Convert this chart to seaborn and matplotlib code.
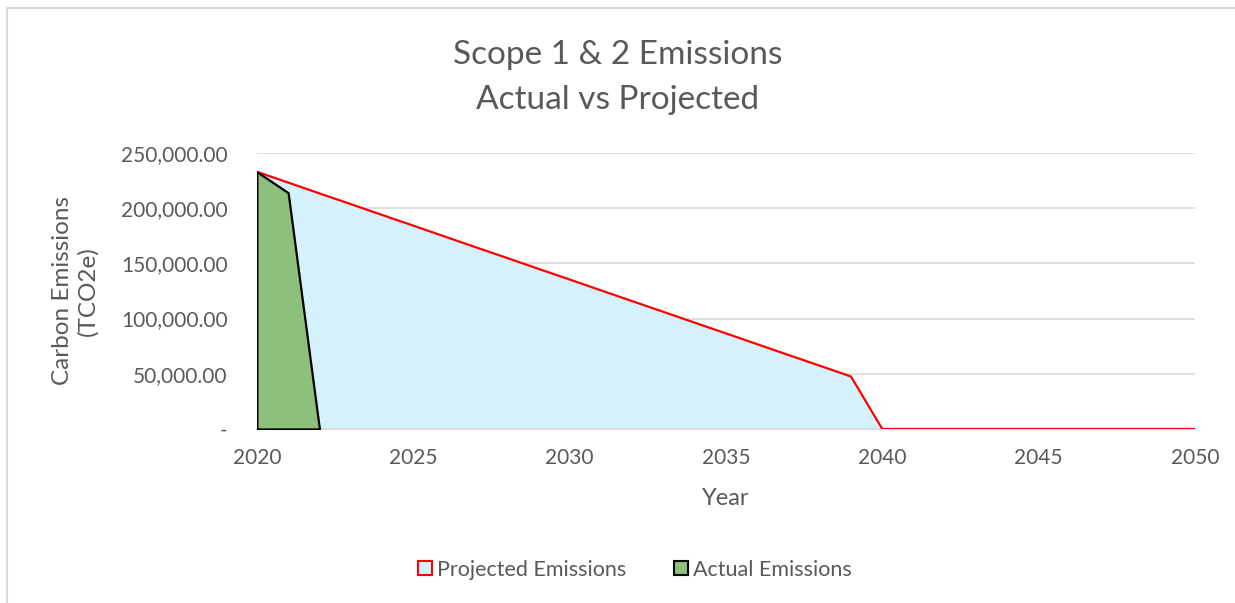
import matplotlib
matplotlib.use("Agg")
import matplotlib.pyplot as plt
from matplotlib.patches import Patch, Rectangle
from matplotlib.ticker import FuncFormatter
import numpy as np
import pandas as pd
import seaborn as sns

# values (TCO2e)
years = list(range(2020, 2051))
projected = [233000, 223200, 213400, 203700, 193900, 184200, 174400, 164600,
             154900, 145100, 135400, 125600, 115800, 106100, 96300, 86600,
             76800, 67000, 57300, 47500, 0, 0, 0, 0, 0, 0, 0, 0, 0, 0, 0]
actual_years = [2020, 2021, 2022]
actual = [233000, 214000, 0]

TEXT = "#595959"

sns.set_theme(style="white")
plt.rcParams["font.family"] = ["Lato", "DejaVu Sans"]

fig = plt.figure(figsize=(12.35, 6.03), dpi=100)
ax = fig.add_axes([0.208, 0.2886, 0.7596, 0.4577])

proj = pd.DataFrame({"year": years, "value": projected})
act = pd.DataFrame({"year": actual_years, "value": actual})

ax.fill_between(proj["year"], proj["value"], 0, color="#D5F1FC", lw=0, zorder=1)
sns.lineplot(data=proj, x="year", y="value", ax=ax, color="#FF0000", lw=1.6, zorder=3)
ax.fill_between(act["year"], act["value"], 0, facecolor="#8DC17B",
                edgecolor="black", lw=1.6, zorder=4)

ax.set_xlim(2020, 2050)
ax.set_ylim(0, 250000)
ax.set_yticks(np.arange(0, 250001, 50000))
ax.set_xticks(range(2020, 2051, 5))
ax.yaxis.set_major_formatter(FuncFormatter(lambda v, p: "-" if v == 0 else f"{v:,.2f}"))
ax.grid(axis="y", color="#D9D9D9", lw=1.2, zorder=0)
ax.set_axisbelow(True)
for s in ["top", "right", "left"]:
    ax.spines[s].set_visible(False)
ax.spines["bottom"].set_color("#D9D9D9")
ax.tick_params(axis="both", length=0, labelsize=15, colors=TEXT)
ax.tick_params(axis="y", pad=21)
ax.tick_params(axis="x", pad=14)

ax.set_xlabel("Year", fontsize=17, color=TEXT, labelpad=14)
ax.set_ylabel("Carbon Emissions\n(TCO2e)", fontsize=17.5, color=TEXT, labelpad=16,
              linespacing=1.25)

fig.suptitle("Scope 1 & 2 Emissions\nActual vs Projected", y=0.934, fontsize=24,
             color=TEXT, linespacing=1.62)

handles = [Patch(facecolor="#D5F1FC", edgecolor="#FF0000", lw=1.5, label="Projected Emissions"),
           Patch(facecolor="#8DC17B", edgecolor="black", lw=1.5, label="Actual Emissions")]
leg = fig.legend(handles=handles, loc="center", bbox_to_anchor=(0.514, 0.055), ncol=2,
                 frameon=False, fontsize=15.5, handlelength=0.65, handleheight=0.65,
                 handletextpad=0.25, columnspacing=2.2)
for t in leg.get_texts():
    t.set_color(TEXT)

# chart-area border (only top and left edges are in view)
fig.patches.append(Rectangle((0.0057, -0.05), 1.05, 1.036, transform=fig.transFigure,
                             fill=False, edgecolor="#D9D9D9", lw=1.5))

fig.savefig("out.png", dpi=100)
